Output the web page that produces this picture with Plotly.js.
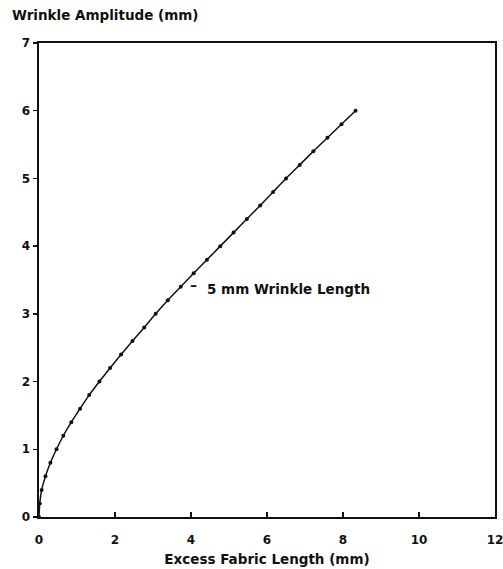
<!DOCTYPE html>
<html>
<head>
<meta charset="utf-8">
<script src="https://cdn.plot.ly/plotly-3.0.1.min.js"></script>
<style>html,body{margin:0;padding:0;background:#fff;}#chart{width:503px;height:569px;}</style>
</head>
<body>
<div id="chart"></div>
<script>
// Excess fabric length (mm) vs wrinkle amplitude (mm), 5 mm wrinkle length
const excessLength = [0, 0.02, 0.07, 0.17, 0.30, 0.46, 0.64, 0.85, 1.08, 1.32, 1.59, 1.87, 2.16, 2.46, 2.77, 3.07, 3.39, 3.73, 4.07, 4.42, 4.77, 5.12, 5.47, 5.82, 6.16, 6.50, 6.86, 7.22, 7.59, 7.96, 8.33];
const amplitude    = [0, 0.2, 0.4, 0.6, 0.8, 1.0, 1.2, 1.4, 1.6, 1.8, 2.0, 2.2, 2.4, 2.6, 2.8, 3.0, 3.2, 3.4, 3.6, 3.8, 4.0, 4.2, 4.4, 4.6, 4.8, 5.0, 5.2, 5.4, 5.6, 5.8, 6.0];
const xTicks = [0, 2, 4, 6, 8, 10, 12];
const yTicks = [0, 1, 2, 3, 4, 5, 6, 7];
const seriesLabel = "5 mm Wrinkle Length";
const xTitle = "Excess Fabric Length (mm)";
const yTitle = "Wrinkle Amplitude (mm)";

const FAM = "DejaVu Sans, Verdana, sans-serif";
const font = {family: FAM, size: 13, color: "#111", weight: "bold"};

const trace = {
  x: excessLength, y: amplitude, type: "scatter", mode: "lines+markers",
  line: {color: "#111", width: 1.5, shape: "spline", smoothing: 0.6},
  marker: {color: "#111", size: 4},
  showlegend: false, hoverinfo: "skip"
};

const layout = {
  width: 503, height: 569,
  margin: {l: 39, r: 8, t: 43, b: 52},
  paper_bgcolor: "#fff", plot_bgcolor: "#fff",
  font: font,
  xaxis: {
    range: [0, 12], tickvals: xTicks, ticktext: xTicks.map(String),
    ticks: "inside", ticklen: 5, tickwidth: 1.5, tickcolor: "#111",
    showline: true, linecolor: "#111", linewidth: 1.6, mirror: true,
    showgrid: false, zeroline: false, ticklabelstandoff: 11,
    ticklabeloverflow: "allow",
    tickfont: {family: FAM, size: 12, weight: "bold", color: "#111"},
    title: {text: xTitle, font: {family: FAM, size: 13.5, weight: "bold", color: "#111"}, standoff: 8}
  },
  yaxis: {
    range: [0, 7], tickvals: yTicks, ticktext: yTicks.map(String),
    ticks: "outside", ticklen: 4, tickwidth: 1.5, tickcolor: "#111",
    showline: true, linecolor: "#111", linewidth: 1.6, mirror: true,
    showgrid: false, zeroline: false, ticklabelstandoff: 1,
    ticklabeloverflow: "allow",
    tickfont: {family: FAM, size: 12, weight: "bold", color: "#111"}
  },
  annotations: [
    {text: yTitle, xref: "paper", yref: "paper", x: 0, xshift: -29, y: 1, yshift: 28,
     xanchor: "left", yanchor: "middle", showarrow: false,
     font: {family: FAM, size: 13.5, weight: "bold", color: "#111"}},
    {text: "–", xref: "x", yref: "y", x: 3.93, y: 3.43,
     xanchor: "left", yanchor: "middle", showarrow: false,
     font: {family: FAM, size: 14, color: "#111"}},
    {text: seriesLabel, xref: "x", yref: "y", x: 4.37, y: 3.36,
     xanchor: "left", yanchor: "middle", showarrow: false,
     font: {family: FAM, size: 13.5, weight: "bold", color: "#111"}}
  ]
};

Plotly.newPlot("chart", [trace], layout, {displayModeBar: false, staticPlot: true});
</script>
</body>
</html>
